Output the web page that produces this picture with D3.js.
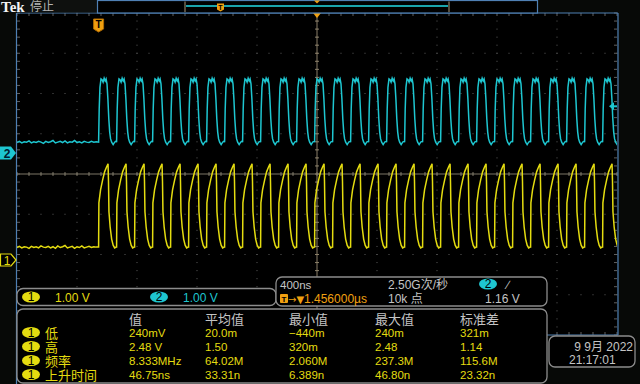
<!DOCTYPE html>
<html><head><meta charset="utf-8">
<script src="https://cdn.jsdelivr.net/npm/d3@7"></script>
<style>html,body{margin:0;padding:0;background:#070907;overflow:hidden}</style>
</head><body><svg id="c" width="640" height="384"></svg>
<script>
// ---------------- data ----------------
const timeRangeNs = [-544, 3456];          // 400 ns/div, 10 div
const ch1Ground = 260, ch2Ground = 153;    // ground marker positions
const voltsPerDiv = [1.00, 1.00];
const edgeTimesNs = [0,120,240,360,480,600,720,840,960,1080,1200,1320,1440,1560,1680,1800,1920,2040,2160,2280,2400,2520,2640,2760,2880,3000,3120,3240,3360];
// one cycle of CH1 (yellow) : offset ns / volts
const ch1CycleNs = [0, 2, 13, 27, 40, 53, 63, 66, 69, 77, 87, 97, 107, 117];
const ch1CycleV  = [0.32, 1.42, 1.74, 1.99, 2.19, 2.31, 2.39, 1.95, 1.20, 0.82, 0.52, 0.37, 0.30, 0.32];
// one cycle of CH2 (cyan)
const ch2CycleNs = [0, 4, 9, 16, 23, 30, 37, 44, 50, 56, 62, 68, 74, 80, 87, 97, 107, 117];
const ch2CycleV  = [0.27, 1.10, 1.63, 1.84, 1.82, 1.76, 1.86, 1.79, 1.84, 1.72, 1.34, 0.85, 0.52, 0.35, 0.27, 0.21, 0.27, 0.30];
// pre-trigger baseline samples (every 16 ns from -544 ns)
const ch1PreV = [0.31,0.34,0.30,0.33,0.32,0.29,0.34,0.31,0.33,0.30,0.35,0.32,0.31,0.34,0.30,0.33,0.29,0.35,0.31,0.33,0.36,0.30,0.32,0.34,0.29,0.33,0.31,0.35,0.30,0.32,0.34,0.31,0.33,0.32];
const ch2PreV = [0.26,0.29,0.25,0.28,0.27,0.30,0.25,0.28,0.26,0.29,0.27,0.24,0.29,0.26,0.28,0.31,0.25,0.27,0.29,0.26,0.30,0.25,0.28,0.27,0.31,0.26,0.28,0.25,0.29,0.27,0.26,0.29,0.27,0.28];
// measurement table
const measHeaders = ["值","平均值","最小值","最大值","标准差"];
const measNames = ["低","高","频率","上升时间"];
const measValues = [
  ["240mV","20.0m","\u2212440m","240m","321m"],
  ["2.48 V","1.50","320m","2.48","1.14"],
  ["8.333MHz","64.02M","2.060M","237.3M","115.6M"],
  ["46.75ns","33.31n","6.389n","46.80n","23.32n"]
];
const chanScales = ["1.00 V","1.00 V"];
const timebase = {scale:"400ns", rate:"2.50G次/秒", posArrow:"\u2192\u25BC", pos:"1.456000\u00B5s", points:"10k 点", level:"1.16 V"};
const dateLines = ["9 9月 2022","21:17:01"];

// ---------------- drawing ----------------
const svg = d3.select("#c");
const X0 = 17, X1 = 617, Y0 = 13, DIVH = 40.25, Y1 = Y0 + 8*DIVH;
const x = d3.scaleLinear().domain(timeRangeNs).range([X0, X1]);
const y1 = d3.scaleLinear().domain([0, voltsPerDiv[0]]).range([ch1Ground, ch1Ground - DIVH]);
const y2 = d3.scaleLinear().domain([0, voltsPerDiv[1]]).range([ch2Ground, ch2Ground - DIVH]);

const YEL = "#e4dc10", CYA = "#1ec6d0", ORG = "#f0a010", GRY = "#c4c4c4", BLU = "#4f80b4";
const NUM = "'Liberation Sans', Arial, sans-serif";
const CJK = "'Liberation Sans','Noto Sans CJK SC', sans-serif";

svg.append("rect").attr("width",640).attr("height",384).attr("fill","#070907");
svg.append("rect").attr("x",X0).attr("y",Y0).attr("width",X1-X0).attr("height",Y1-Y0).attr("fill","#000");

const g = svg.append("g");
const vT = d3.range(timeRangeNs[0], timeRangeNs[1]+1, 400);
const hDiv = d3.range(0, 9);
vT.forEach((t,i)=>{
  if(i===0||i===vT.length-1) return;
  d3.range(0, 41).forEach(k=>{
    g.append("rect").attr("x",x(t)-0.5).attr("y",Y0+k*DIVH/5-0.5).attr("width",1).attr("height",1).attr("fill","#5c5c5c");
  });
});
hDiv.forEach(j=>{
  if(j===0||j===8) return;
  d3.range(0, 51).forEach(k=>{
    g.append("rect").attr("x",X0+k*12-0.5).attr("y",Y0+j*DIVH-0.5).attr("width",1).attr("height",1).attr("fill","#5c5c5c");
  });
});
d3.range(0,51).forEach(k=>{
  const xx = X0+k*12;
  g.append("line").attr("x1",xx).attr("x2",xx).attr("y1",Y0).attr("y2",Y0+3).attr("stroke","#606060");
  g.append("line").attr("x1",xx).attr("x2",xx).attr("y1",Y1-3).attr("y2",Y1).attr("stroke","#606060");
});
d3.range(0,41).forEach(k=>{
  const yy = Y0+k*DIVH/5;
  g.append("line").attr("x1",X0).attr("x2",X0+3).attr("y1",yy).attr("y2",yy).attr("stroke","#606060");
  g.append("line").attr("x1",X1-3).attr("x2",X1).attr("y1",yy).attr("y2",yy).attr("stroke","#606060");
});
const cx = x(1456), cy = Y0 + 4*DIVH;
g.append("line").attr("x1",X0).attr("x2",X1).attr("y1",cy).attr("y2",cy).attr("stroke","#7d7666").attr("stroke-width",1);
g.append("line").attr("x1",cx).attr("x2",cx).attr("y1",Y0).attr("y2",Y1).attr("stroke","#8a7f68").attr("stroke-width",1);
d3.range(0,51).forEach(k=>{
  const xx = X0+k*12;
  g.append("line").attr("x1",xx).attr("x2",xx).attr("y1",cy-2).attr("y2",cy+2).attr("stroke","#7d7666");
});
d3.range(0,41).forEach(k=>{
  const yy = Y0+k*DIVH/5;
  g.append("line").attr("x1",cx-2).attr("x2",cx+2).attr("y1",yy).attr("y2",yy).attr("stroke","#8a7f68");
});

// waveforms
svg.append("clipPath").attr("id","clip").append("rect").attr("x",X0).attr("y",Y0).attr("width",X1-X0).attr("height",Y1-Y0);
const preT = d3.range(timeRangeNs[0], 0, 16);
function build(preV, cycT, cycV){
  const pts = preT.map((t,i)=>[t, preV[i]]);
  edgeTimesNs.forEach(e=>{ cycT.forEach((dt,i)=>pts.push([e+dt, cycV[i]])); });
  return pts;
}
const w1 = build(ch1PreV, ch1CycleNs, ch1CycleV);
const w2 = build(ch2PreV, ch2CycleNs, ch2CycleV);
const wg = svg.append("g").attr("clip-path","url(#clip)");
wg.append("path").datum(w2).attr("fill","none").attr("stroke",CYA).attr("stroke-width",1.5)
  .attr("d", d3.line().x(d=>x(d[0])).y(d=>y2(d[1])));
wg.append("path").datum(w1).attr("fill","none").attr("stroke",YEL).attr("stroke-width",1.5)
  .attr("d", d3.line().x(d=>x(d[0])).y(d=>y1(d[1])));

// graticule border (blue)
svg.append("line").attr("x1",X0).attr("x2",X1+1).attr("y1",Y0).attr("y2",Y0).attr("stroke",BLU).attr("stroke-width",1.2);
svg.append("line").attr("x1",X0-0.5).attr("x2",X0-0.5).attr("y1",Y0).attr("y2",384).attr("stroke",BLU).attr("stroke-width",1.2);
svg.append("line").attr("x1",X1+1).attr("x2",X1+1).attr("y1",Y0).attr("y2",Y1).attr("stroke",BLU).attr("stroke-width",1.2);
svg.append("line").attr("x1",547).attr("x2",X1+1).attr("y1",Y1).attr("y2",Y1).attr("stroke",BLU).attr("stroke-width",1.2);

// trigger marker in graticule
const tx = x(0);
svg.append("path").attr("d",`M${tx-5},19 h10 v10 l-5,3 l-5,-3 Z`).attr("fill",ORG).attr("stroke","#b06a00");
svg.append("text").attr("x",tx).attr("y",28).attr("text-anchor","middle").attr("font-family",NUM).attr("font-weight","bold").attr("font-size",10).attr("fill","#000").text("T");
svg.append("path").attr("d",`M${cx-4},${Y0} h8 l-4,5 Z`).attr("fill",ORG);
const ty = y2(1.16);
svg.append("path").attr("d",`M${X1-8},${ty} l5,-4 v8 Z`).attr("fill",CYA);
svg.append("line").attr("x1",X1-4).attr("x2",X1).attr("y1",ty).attr("y2",ty).attr("stroke",CYA).attr("stroke-width",2);

// channel ground markers
svg.append("path").attr("d",`M0,${ch2Ground-6.5} h11 l5,6.5 l-5,6.5 h-11 Z`).attr("fill",CYA);
svg.append("text").attr("x",7).attr("y",ch2Ground+4.5).attr("text-anchor","middle").attr("font-family",NUM).attr("font-weight","bold").attr("font-size",12).attr("fill","#002030").text("2");
svg.append("path").attr("d",`M0.5,${ch1Ground-6} h10.5 l5,6 l-5,6 h-10.5 Z`).attr("fill","#000").attr("stroke",YEL).attr("stroke-width",1.2);
svg.append("text").attr("x",7).attr("y",ch1Ground+4.5).attr("text-anchor","middle").attr("font-family",NUM).attr("font-size",12).attr("fill",YEL).text("1");

// top bar
svg.append("rect").attr("x",0).attr("y",0).attr("width",97).attr("height",12.5).attr("fill","#0e100e");
svg.append("text").attr("x",1).attr("y",11.5).attr("font-family","'Liberation Serif', serif").attr("font-weight","bold").attr("font-size",15).attr("fill","#f4f4f4").text("Tek");
svg.append("text").attr("x",30).attr("y",11).attr("font-family",CJK).attr("font-size",12).attr("fill","#b4b4b4").text("停止");
svg.append("rect").attr("x",97.5).attr("y",0.5).attr("width",440).attr("height",12.5).attr("fill","#000").attr("stroke",BLU).attr("stroke-width",1.2);
svg.append("line").attr("x1",186).attr("x2",448).attr("y1",6).attr("y2",6).attr("stroke","#1aa4ac").attr("stroke-width",2);
[185,449].forEach(bx=>svg.append("line").attr("x1",bx).attr("x2",bx).attr("y1",1.5).attr("y2",12).attr("stroke","#a89878").attr("stroke-width",1));
svg.append("path").attr("d","M217,3.5 h7 v6 l-3.5,2 l-3.5,-2 Z").attr("fill",ORG);
svg.append("text").attr("x",220.5).attr("y",9.5).attr("text-anchor","middle").attr("font-family",NUM).attr("font-weight","bold").attr("font-size",7).attr("fill","#000").text("T");
svg.append("path").attr("d",`M${cx-3},0.5 h6 l-3,3 Z`).attr("fill",ORG);

// panels
function panel(x0,y0,w,h){
  svg.append("rect").attr("x",x0).attr("y",y0).attr("width",w).attr("height",h).attr("rx",6).attr("fill","#000").attr("stroke","#8c8c8c").attr("stroke-width",1.3);
}
function badge(cxp,cyp,fill,label,tcol){
  svg.append("ellipse").attr("cx",cxp).attr("cy",cyp).attr("rx",9).attr("ry",5.5).attr("fill",fill);
  svg.append("text").attr("x",cxp).attr("y",cyp+4.3).attr("text-anchor","middle").attr("font-family",NUM).attr("font-size",12).attr("fill",tcol).text(label);
}
function txt(xp,yp,s,col,size,fam,anchor){
  svg.append("text").attr("x",xp).attr("y",yp).attr("font-family",fam||NUM).attr("font-size",size||12).attr("fill",col).attr("text-anchor",anchor||"start").text(s);
}
panel(17,288.5,259,17);
badge(31,297,YEL,"1","#000");
txt(55,302,chanScales[0],YEL,12);
badge(159,297,CYA,"2","#000");
txt(183,302,chanScales[1],CYA,12);
panel(276,277,271,29);
txt(280,289,timebase.scale,GRY,11.5);
txt(388,289,timebase.rate,GRY,12,CJK);
badge(488,284,CYA,"2","#000");
txt(507,289,"\u2215",GRY,12);
svg.append("rect").attr("x",280).attr("y",294).attr("width",8).attr("height",9).attr("rx",1).attr("fill",ORG);
svg.append("text").attr("x",284).attr("y",302).attr("text-anchor","middle").attr("font-family",NUM).attr("font-weight","bold").attr("font-size",8).attr("fill","#000").text("T");
txt(288,302.5,timebase.posArrow,ORG,10,"'DejaVu Sans', sans-serif");
txt(304,303,timebase.pos,ORG,12);
txt(388,303,timebase.points,GRY,12,CJK);
txt(485,303,timebase.level,GRY,12);
panel(17,309,530,74);
const colX = [129,205,289,375,460];
measHeaders.forEach((h,i)=>txt(colX[i],324,h,GRY,13,CJK));
measNames.forEach((n,r)=>{
  const by = 337 + r*14;
  badge(31,by-4.5,YEL,"1","#000");
  txt(45,by+1,n,YEL,13,CJK);
  measValues[r].forEach((v,i)=>txt(colX[i],by,v,YEL,11.5));
});
panel(549,336,86,31);
txt(633,351,dateLines[0],GRY,12,CJK,"end");
txt(569,364,dateLines[1],GRY,12);
</script></body></html>
